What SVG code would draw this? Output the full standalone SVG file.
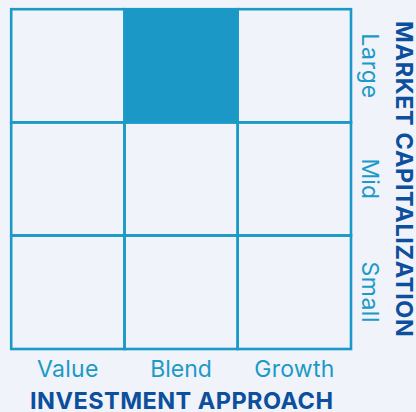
<svg xmlns="http://www.w3.org/2000/svg" width="416" height="412" viewBox="0 0 416 412">
<style>
.cell{fill:none;stroke:#1c9ac7;stroke-width:2.6}
.on{fill:#1b98c5}
.lbl{font-family:Inter,"Liberation Sans",sans-serif;font-weight:400;font-size:23px;fill:#1c9ac7;text-anchor:middle}
.axis{font-family:Inter,"Liberation Sans",sans-serif;font-weight:700;font-size:23.5px;fill:#0c4f9c;text-anchor:middle}
</style>
<rect width="416" height="412" fill="#f0f3f9"/>
<g id="cells">
<g id="cell-large-value"><rect class="cell" x="11.2" y="9.2" width="113.3" height="113.2"/></g>
<g id="cell-large-blend"><rect class="cell on" x="124.5" y="9.2" width="113.2" height="113.2"/></g>
<g id="cell-large-growth"><rect class="cell" x="237.7" y="9.2" width="113.3" height="113.2"/></g>
<g id="cell-mid-value"><rect class="cell" x="11.2" y="122.4" width="113.3" height="113.1"/></g>
<g id="cell-mid-blend"><rect class="cell" x="124.5" y="122.4" width="113.2" height="113.1"/></g>
<g id="cell-mid-growth"><rect class="cell" x="237.7" y="122.4" width="113.3" height="113.1"/></g>
<g id="cell-small-value"><rect class="cell" x="11.2" y="235.5" width="113.3" height="113.5"/></g>
<g id="cell-small-blend"><rect class="cell" x="124.5" y="235.5" width="113.2" height="113.5"/></g>
<g id="cell-small-growth"><rect class="cell" x="237.7" y="235.5" width="113.3" height="113.5"/></g>
</g>
<g id="col-labels">
<text class="lbl" x="67.7" y="376.7" textLength="61.5" lengthAdjust="spacing">Value</text>
<text class="lbl" x="181" y="376.7" textLength="61.5" lengthAdjust="spacing">Blend</text>
<text class="lbl" x="294.3" y="376.7" textLength="80" lengthAdjust="spacing">Growth</text>
</g>
<g id="row-labels">
<text class="lbl" transform="translate(362,65.7) rotate(90)" textLength="65" lengthAdjust="spacing">Large</text>
<text class="lbl" transform="translate(362,178.8) rotate(90)">Mid</text>
<text class="lbl" transform="translate(362,292) rotate(90)" textLength="61" lengthAdjust="spacing">Small</text>
</g>
<g id="axis-titles">
<text class="axis" x="181.5" y="409" textLength="303" lengthAdjust="spacing">INVESTMENT APPROACH</text>
<text class="axis" transform="translate(396,179) rotate(90)" textLength="316" lengthAdjust="spacing">MARKET CAPITALIZATION</text>
</g>
</svg>
